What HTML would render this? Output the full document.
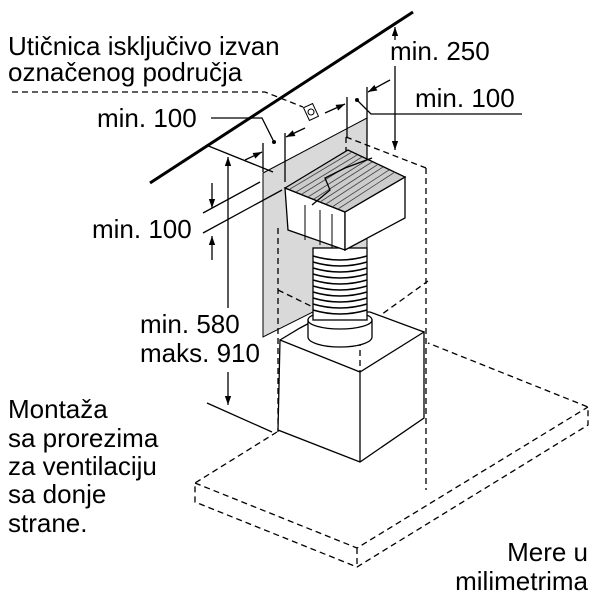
<!DOCTYPE html>
<html><head><meta charset="utf-8"><style>
html,body{margin:0;padding:0;background:#fff;}
svg{display:block}
text{font-family:"Liberation Sans",sans-serif;font-size:26px;fill:#000}
</style></head><body>
<svg width="600" height="600" viewBox="0 0 600 600" xmlns="http://www.w3.org/2000/svg">
<defs>
<marker id="ar" viewBox="0 0 10 10" refX="10" refY="5" markerWidth="9" markerHeight="9" orient="auto-start-reverse" markerUnits="userSpaceOnUse"><path d="M0,1.5 L10,5 L0,8.5 z" fill="#000"/></marker>
</defs>
<line x1="150" y1="183" x2="413" y2="12" stroke="#000" stroke-width="3"/>
<polyline points="12,92 265,92 303,107" fill="none" stroke="#000" stroke-width="1.3" stroke-dasharray="6,4"/>
<g transform="translate(311,112) rotate(-25)"><rect x="-5" y="-7" width="10" height="14" fill="#fff" stroke="#000"/><circle cx="0" cy="0" r="3" fill="none" stroke="#000"/></g>
<polygon points="263,173 367,118 367,285 263,337" fill="#d9d9d9" stroke="#000" stroke-width="1"/>
<g fill="none" stroke="#000" stroke-width="1.3" stroke-dasharray="6,4">
<polyline points="277,432 195,483 195,502 357,567 588,425 588,407 428,343"/>
<polyline points="195,483 357,548 588,407"/>
<line x1="357" y1="548" x2="357" y2="567"/>
<line x1="278" y1="228" x2="278" y2="432"/>
<line x1="346" y1="137" x2="346" y2="180"/>
<line x1="346" y1="137" x2="426" y2="168"/>
<line x1="426" y1="168" x2="426" y2="490"/>
<polyline points="278,290 360,330 428,281"/>
<line x1="360" y1="330" x2="360" y2="462"/>
</g>
<polygon points="280,340 360,372 424,332 424,418 360,462 278,430" fill="#fff" stroke="#000" stroke-width="1.3"/>
<line x1="360" y1="372" x2="360" y2="462" stroke="#000" stroke-width="1.3"/>
<polyline points="280,340 300,328 330,312 370,312 424,332" fill="#fff" stroke="#000" stroke-width="1.3"/>
<path d="M308,320 L308,337 A32,10 0 0 0 372,337 L372,320 Z" fill="#fff" stroke="#000" stroke-width="1.3"/>
<ellipse cx="340" cy="320" rx="32" ry="9" fill="#fff" stroke="#000" stroke-width="1.3"/>
<rect x="313" y="248" width="54" height="72" fill="#fff" stroke="#000" stroke-width="1.3"/>
<g stroke="#000" stroke-width="1.5" fill="none">
<path d="M313,256 q27,8 54,0 M313,262 q27,8 54,0 M313,268 q27,8 54,0 M313,274 q27,8 54,0 M313,280 q27,8 54,0 M313,286 q27,8 54,0 M313,292 q27,8 54,0 M313,298 q27,8 54,0 M313,304 q27,8 54,0 M313,310 q27,8 54,0"/>
</g>
<polygon points="285,188 345,212 345,250 288,230" fill="#fff" stroke="#000" stroke-width="1.3"/>
<polygon points="345,212 405,177 405,218 345,250" fill="#fff" stroke="#000" stroke-width="1.3"/>
<polygon points="285,188 348,150 405,177 345,212" fill="#ccc" stroke="#000" stroke-width="1.3"/>
<g stroke="#444" stroke-width="0.8">
<line x1="290" y1="189" x2="352" y2="152"/><line x1="296" y1="192" x2="357" y2="155"/><line x1="302" y1="194" x2="362" y2="157"/><line x1="308" y1="197" x2="367" y2="160"/><line x1="314" y1="199" x2="372" y2="162"/><line x1="320" y1="202" x2="377" y2="165"/><line x1="326" y1="204" x2="383" y2="167"/><line x1="332" y1="207" x2="389" y2="170"/><line x1="338" y1="209" x2="395" y2="172"/>
</g>
<polyline points="312,205 330,190 325,178 345,168 372,158" fill="none" stroke="#000" stroke-width="1.3"/>
<g stroke="#000" stroke-width="1"><line x1="305" y1="205" x2="305" y2="240"/><line x1="320" y1="210" x2="320" y2="245"/><line x1="332" y1="214" x2="332" y2="248"/></g>
<g stroke="#000" stroke-width="1.3" fill="none">
<polyline points="211,118 262,118 274,142"/>
<line x1="206" y1="145" x2="273" y2="172"/>
<line x1="263" y1="143" x2="263" y2="172"/>
<line x1="285" y1="133" x2="285" y2="182"/>
<line x1="347" y1="97" x2="347" y2="137"/>
<line x1="367" y1="87" x2="367" y2="160"/>
<polyline points="357,100 371,114 522,114"/>
<line x1="203" y1="213" x2="260" y2="182"/>
<line x1="203" y1="233" x2="282" y2="190"/>
<line x1="207" y1="403" x2="272" y2="432"/>
<line x1="395" y1="27" x2="395" y2="40" marker-start="url(#ar)"/>
<line x1="395" y1="66" x2="395" y2="150" marker-end="url(#ar)"/>
<line x1="228" y1="157" x2="228" y2="308" marker-start="url(#ar)"/>
<line x1="228" y1="372" x2="228" y2="405" marker-end="url(#ar)"/>
<line x1="212" y1="183" x2="212" y2="208" marker-end="url(#ar)"/>
<line x1="212" y1="260" x2="212" y2="236" marker-end="url(#ar)"/>
<line x1="245" y1="160" x2="262" y2="152" marker-end="url(#ar)"/>
<line x1="325" y1="113" x2="345" y2="104" marker-end="url(#ar)"/>
<line x1="305" y1="128" x2="286" y2="137" marker-end="url(#ar)"/>
<line x1="390" y1="80" x2="368" y2="92" marker-end="url(#ar)"/>
</g>
<circle cx="274" cy="142" r="2" fill="#000"/>
<circle cx="357" cy="100" r="2" fill="#000"/>
<text x="8" y="55">Utičnica isključivo izvan</text>
<text x="8" y="81">označenog područja</text>
<text x="390" y="60">min. 250</text>
<text x="415" y="107">min. 100</text>
<text x="97" y="127">min. 100</text>
<text x="92" y="238">min. 100</text>
<text x="140" y="333">min. 580</text>
<text x="140" y="362">maks. 910</text>
<text x="8" y="418">Montaža</text>
<text x="8" y="447">sa prorezima</text>
<text x="8" y="475">za ventilaciju</text>
<text x="8" y="503">sa donje</text>
<text x="8" y="532">strane.</text>
<text x="588" y="561" text-anchor="end">Mere u</text>
<text x="588" y="590" text-anchor="end">milimetrima</text>
</svg>
</body></html>
